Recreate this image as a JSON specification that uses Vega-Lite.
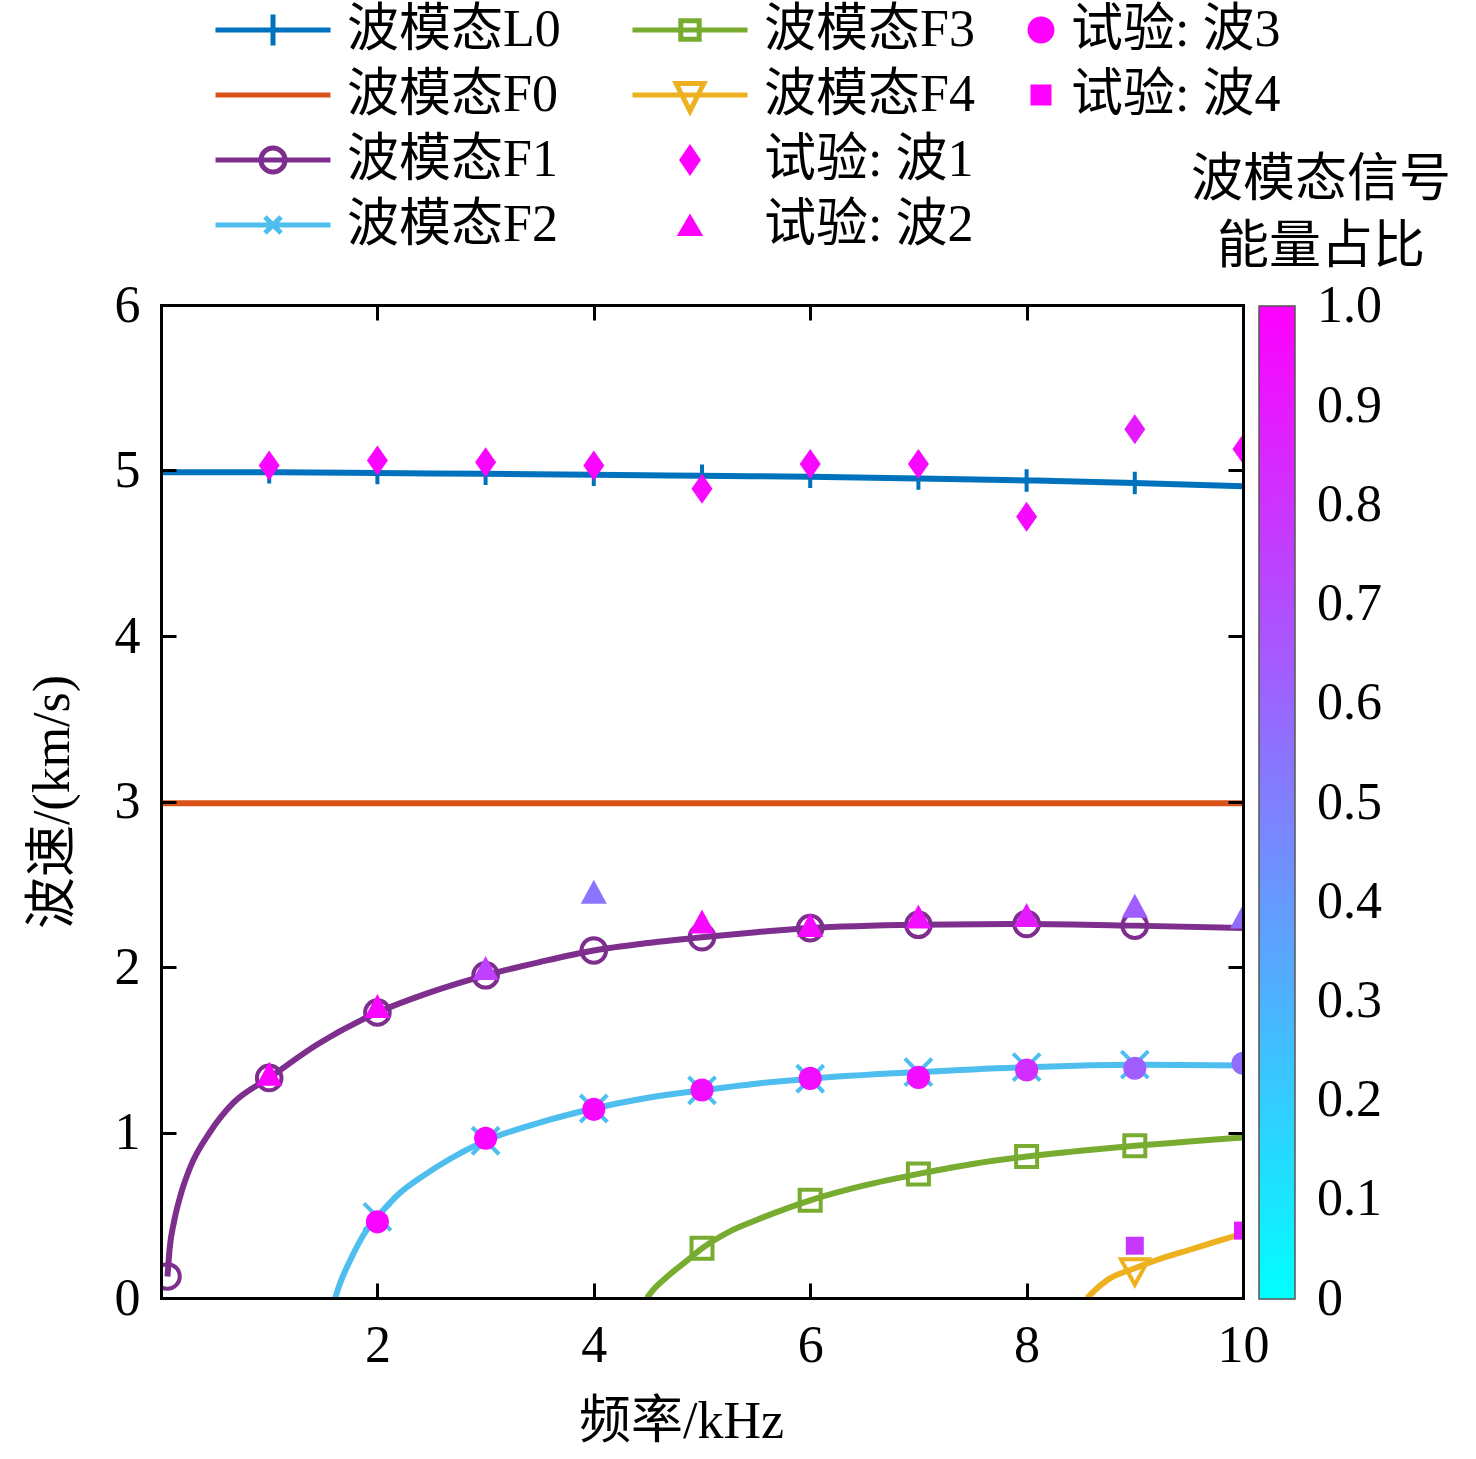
{
  "$schema": "https://vega.github.io/schema/vega-lite/v6.json",
  "width": 1082,
  "height": 993,
  "autosize": "none",
  "padding": {"left": 161, "top": 305, "right": 233, "bottom": 161},
  "background": "white",
  "config": {
    "view": {"stroke": null},
    "font": "Liberation Serif",
    "axis": {"grid": false}
  },
  "datasets": {
    "curves": [
      {"series": "波模态L0", "x": 0, "y": 4.99}, {"series": "波模态L0", "x": 1, "y": 4.99}, {"series": "波模态L0", "x": 2, "y": 4.985}, {"series": "波模态L0", "x": 3, "y": 4.98}, {"series": "波模态L0", "x": 4, "y": 4.975}, {"series": "波模态L0", "x": 5, "y": 4.968}, {"series": "波模态L0", "x": 6, "y": 4.962}, {"series": "波模态L0", "x": 7, "y": 4.952}, {"series": "波模态L0", "x": 8, "y": 4.94}, {"series": "波模态L0", "x": 9, "y": 4.925}, {"series": "波模态L0", "x": 10, "y": 4.905},
      {"series": "波模态F0", "x": 0, "y": 2.99}, {"series": "波模态F0", "x": 10, "y": 2.99},
      {"series": "波模态F1", "x": 0.06, "y": 0.13}, {"series": "波模态F1", "x": 0.08, "y": 0.3}, {"series": "波模态F1", "x": 0.12, "y": 0.46}, {"series": "波模态F1", "x": 0.18, "y": 0.62}, {"series": "波模态F1", "x": 0.27, "y": 0.79}, {"series": "波模态F1", "x": 0.45, "y": 1.0}, {"series": "波模态F1", "x": 0.67, "y": 1.18}, {"series": "波模态F1", "x": 1, "y": 1.33}, {"series": "波模态F1", "x": 1.44, "y": 1.53}, {"series": "波模态F1", "x": 2, "y": 1.725}, {"series": "波模态F1", "x": 2.5, "y": 1.85}, {"series": "波模态F1", "x": 3, "y": 1.95}, {"series": "波模态F1", "x": 3.5, "y": 2.03}, {"series": "波模态F1", "x": 4, "y": 2.1}, {"series": "波模态F1", "x": 4.5, "y": 2.145}, {"series": "波模态F1", "x": 5, "y": 2.18}, {"series": "波模态F1", "x": 5.5, "y": 2.21}, {"series": "波模态F1", "x": 6, "y": 2.235}, {"series": "波模态F1", "x": 7, "y": 2.255}, {"series": "波模态F1", "x": 8, "y": 2.26}, {"series": "波模态F1", "x": 9, "y": 2.25}, {"series": "波模态F1", "x": 10, "y": 2.235},
      {"series": "波模态F2", "x": 1.61, "y": 0.0}, {"series": "波模态F2", "x": 1.65, "y": 0.08}, {"series": "波模态F2", "x": 1.75, "y": 0.23}, {"series": "波模态F2", "x": 1.9, "y": 0.41}, {"series": "波模态F2", "x": 2, "y": 0.49}, {"series": "波模态F2", "x": 2.2, "y": 0.63}, {"series": "波模态F2", "x": 2.45, "y": 0.75}, {"series": "波模态F2", "x": 2.67, "y": 0.84}, {"series": "波模态F2", "x": 3, "y": 0.95}, {"series": "波模态F2", "x": 3.5, "y": 1.06}, {"series": "波模态F2", "x": 4, "y": 1.145}, {"series": "波模态F2", "x": 4.5, "y": 1.21}, {"series": "波模态F2", "x": 5, "y": 1.255}, {"series": "波模态F2", "x": 5.5, "y": 1.295}, {"series": "波模态F2", "x": 6, "y": 1.325}, {"series": "波模态F2", "x": 7, "y": 1.365}, {"series": "波模态F2", "x": 8, "y": 1.395}, {"series": "波模态F2", "x": 9, "y": 1.41}, {"series": "波模态F2", "x": 10, "y": 1.405},
      {"series": "波模态F3", "x": 4.49, "y": 0.0}, {"series": "波模态F3", "x": 4.55, "y": 0.05}, {"series": "波模态F3", "x": 4.68, "y": 0.13}, {"series": "波模态F3", "x": 4.85, "y": 0.22}, {"series": "波模态F3", "x": 5, "y": 0.3}, {"series": "波模态F3", "x": 5.25, "y": 0.4}, {"series": "波模态F3", "x": 5.5, "y": 0.47}, {"series": "波模态F3", "x": 6, "y": 0.59}, {"series": "波模态F3", "x": 6.5, "y": 0.68}, {"series": "波模态F3", "x": 7, "y": 0.75}, {"series": "波模态F3", "x": 7.5, "y": 0.81}, {"series": "波模态F3", "x": 8, "y": 0.855}, {"series": "波模态F3", "x": 8.5, "y": 0.89}, {"series": "波模态F3", "x": 9, "y": 0.92}, {"series": "波模态F3", "x": 9.5, "y": 0.945}, {"series": "波模态F3", "x": 10, "y": 0.97},
      {"series": "波模态F4", "x": 8.56, "y": 0.0}, {"series": "波模态F4", "x": 8.62, "y": 0.04}, {"series": "波模态F4", "x": 8.75, "y": 0.11}, {"series": "波模态F4", "x": 9, "y": 0.18}, {"series": "波模态F4", "x": 9.25, "y": 0.24}, {"series": "波模态F4", "x": 9.5, "y": 0.29}, {"series": "波模态F4", "x": 9.75, "y": 0.34}, {"series": "波模态F4", "x": 10, "y": 0.39}
    ],
    "markers": [
      {"series": "波模态L0", "x": 0, "y": 4.99}, {"series": "波模态L0", "x": 1, "y": 4.99}, {"series": "波模态L0", "x": 2, "y": 4.985}, {"series": "波模态L0", "x": 3, "y": 4.98}, {"series": "波模态L0", "x": 4, "y": 4.975}, {"series": "波模态L0", "x": 5, "y": 4.968}, {"series": "波模态L0", "x": 6, "y": 4.962}, {"series": "波模态L0", "x": 7, "y": 4.952}, {"series": "波模态L0", "x": 8, "y": 4.94}, {"series": "波模态L0", "x": 9, "y": 4.925},
      {"series": "波模态F1", "x": 0.06, "y": 0.13}, {"series": "波模态F1", "x": 1, "y": 1.33}, {"series": "波模态F1", "x": 2, "y": 1.725}, {"series": "波模态F1", "x": 3, "y": 1.95}, {"series": "波模态F1", "x": 4, "y": 2.1}, {"series": "波模态F1", "x": 5, "y": 2.18}, {"series": "波模态F1", "x": 6, "y": 2.235}, {"series": "波模态F1", "x": 7, "y": 2.255}, {"series": "波模态F1", "x": 8, "y": 2.26}, {"series": "波模态F1", "x": 9, "y": 2.25},
      {"series": "波模态F2", "x": 2, "y": 0.49}, {"series": "波模态F2", "x": 3, "y": 0.95}, {"series": "波模态F2", "x": 4, "y": 1.145}, {"series": "波模态F2", "x": 5, "y": 1.255}, {"series": "波模态F2", "x": 6, "y": 1.325}, {"series": "波模态F2", "x": 7, "y": 1.365}, {"series": "波模态F2", "x": 8, "y": 1.395}, {"series": "波模态F2", "x": 9, "y": 1.41},
      {"series": "波模态F3", "x": 5, "y": 0.3}, {"series": "波模态F3", "x": 6, "y": 0.59}, {"series": "波模态F3", "x": 7, "y": 0.75}, {"series": "波模态F3", "x": 8, "y": 0.855}, {"series": "波模态F3", "x": 9, "y": 0.92},
      {"series": "波模态F4", "x": 9, "y": 0.18}
    ],
    "exps": [
      {"series": "试验: 波1", "x": 1, "y": 5.03, "e": 0.97}, {"series": "试验: 波1", "x": 2, "y": 5.06, "e": 0.98}, {"series": "试验: 波1", "x": 3, "y": 5.05, "e": 0.98}, {"series": "试验: 波1", "x": 4, "y": 5.03, "e": 0.98}, {"series": "试验: 波1", "x": 5, "y": 4.89, "e": 0.97}, {"series": "试验: 波1", "x": 6, "y": 5.04, "e": 0.97}, {"series": "试验: 波1", "x": 7, "y": 5.04, "e": 0.97}, {"series": "试验: 波1", "x": 8, "y": 4.72, "e": 0.96}, {"series": "试验: 波1", "x": 9, "y": 5.25, "e": 0.9}, {"series": "试验: 波1", "x": 10, "y": 5.13, "e": 0.95},
      {"series": "试验: 波2", "x": 1, "y": 1.35, "e": 1.0}, {"series": "试验: 波2", "x": 2, "y": 1.76, "e": 0.98}, {"series": "试验: 波2", "x": 3, "y": 1.99, "e": 0.75}, {"series": "试验: 波2", "x": 4, "y": 2.45, "e": 0.54}, {"series": "试验: 波2", "x": 5, "y": 2.27, "e": 0.97}, {"series": "试验: 波2", "x": 6, "y": 2.25, "e": 0.97}, {"series": "试验: 波2", "x": 7, "y": 2.3, "e": 0.95}, {"series": "试验: 波2", "x": 8, "y": 2.31, "e": 0.9}, {"series": "试验: 波2", "x": 9, "y": 2.365, "e": 0.63}, {"series": "试验: 波2", "x": 10, "y": 2.3, "e": 0.58},
      {"series": "试验: 波3", "x": 2, "y": 0.46, "e": 0.98}, {"series": "试验: 波3", "x": 3, "y": 0.965, "e": 0.98}, {"series": "试验: 波3", "x": 4, "y": 1.14, "e": 0.97}, {"series": "试验: 波3", "x": 5, "y": 1.257, "e": 0.95}, {"series": "试验: 波3", "x": 6, "y": 1.327, "e": 0.95}, {"series": "试验: 波3", "x": 7, "y": 1.333, "e": 0.95}, {"series": "试验: 波3", "x": 8, "y": 1.378, "e": 0.82}, {"series": "试验: 波3", "x": 9, "y": 1.388, "e": 0.63}, {"series": "试验: 波3", "x": 10, "y": 1.418, "e": 0.57},
      {"series": "试验: 波4", "x": 9, "y": 0.316, "e": 0.78}, {"series": "试验: 波4", "x": 10, "y": 0.407, "e": 0.88}
    ]
  },
  "layer": [
    {
      "data": {"name": "curves"},
      "mark": {"type": "line", "strokeWidth": 6, "interpolate": "monotone", "clip": true, "opacity": 1},
      "encoding": {
        "x": {"field": "x", "type": "quantitative", "scale": {"domain": [0, 10], "nice": false, "zero": false},
          "axis": {"orient": "bottom", "values": [2, 4, 6, 8, 10], "title": "频率/kHz", "titleX": 520, "tickSize": -15, "tickWidth": 3, "tickColor": "black", "domainWidth": 3, "domainColor": "black", "domainCap": "square", "labelPadding": 37, "labelFlush": false, "labelFont": "Liberation Serif", "labelFontSize": 52, "labelColor": "black", "titleFont": "Liberation Serif, Noto Sans CJK SC", "titleFontSize": 52, "titleFontWeight": "normal", "titleColor": "black", "titlePadding": 25, "zindex": 1, "grid": false}},
        "y": {"field": "y", "type": "quantitative", "scale": {"domain": [0, 6], "nice": false},
          "axis": {"orient": "left", "values": [0, 1, 2, 3, 4, 5, 6], "title": "波速/(km/s)", "tickSize": -15, "tickWidth": 3, "tickColor": "black", "domainWidth": 3, "domainColor": "black", "domainCap": "square", "labelPadding": 36, "labelFlush": false, "labelFont": "Liberation Serif", "labelFontSize": 52, "labelColor": "black", "titleFont": "Liberation Serif, Noto Sans CJK SC", "titleFontSize": 52, "titleFontWeight": "normal", "titleColor": "black", "titlePadding": 35, "zindex": 1, "grid": false}},
        "stroke": {"field": "series", "type": "nominal",
          "scale": {"domain": ["波模态L0", "波模态F0", "波模态F1", "波模态F2", "波模态F3", "波模态F4", "试验: 波1", "试验: 波2"],
                    "range": ["#0072BD", "#D95319", "#7E2F8E", "#4DBEEE", "#77AC30", "#EDB120", "#ff00ff", "#ff00ff"]},
          "legend": null}
      }
    },
    {
      "data": {"name": "markers"},
      "mark": {"type": "point", "filled": false, "strokeWidth": 4, "size": 900, "opacity": 1, "clip": true},
      "encoding": {
        "x": {"field": "x", "type": "quantitative", "scale": {"domain": [0, 10], "nice": false, "zero": false},
          "axis": {"orient": "top", "values": [2, 4, 6, 8], "title": null, "labels": false, "tickSize": -15, "tickWidth": 3, "tickColor": "black", "domainWidth": 3, "domainColor": "black", "domainCap": "square", "zindex": 1, "grid": false}},
        "y": {"field": "y", "type": "quantitative", "scale": {"domain": [0, 6], "nice": false},
          "axis": {"orient": "right", "values": [1, 2, 3, 4, 5], "title": null, "labels": false, "tickSize": -15, "tickWidth": 3, "tickColor": "black", "domainWidth": 3, "domainColor": "black", "domainCap": "square", "zindex": 1, "grid": false}},
        "stroke": {"field": "series", "type": "nominal",
          "scale": {"domain": ["波模态L0", "波模态F0", "波模态F1", "波模态F2", "波模态F3", "波模态F4", "试验: 波1", "试验: 波2"],
                    "range": ["#0072BD", "#D95319", "#7E2F8E", "#4DBEEE", "#77AC30", "#EDB120", "#ff00ff", "#ff00ff"]},
          "legend": null},
        "shape": {"field": "series", "type": "nominal",
          "scale": {"domain": ["波模态L0", "波模态F1", "波模态F2", "波模态F3", "波模态F4"],
                    "range": ["M0,-0.75V0.75M-0.5,0H0.5", "M-0.82,0A0.82,0.82 0 1,0 0.82,0A0.82,0.82 0 1,0 -0.82,0Z", "M-0.9,-0.9L0.9,0.9M-0.9,0.9L0.9,-0.9", "M-0.7,-0.7H0.7V0.7H-0.7Z", "M-0.93,-0.6H0.93L0,1.1Z"]},
          "legend": null}
      }
    },
    {
      "data": {"name": "exps"},
      "mark": {"type": "point", "filled": true, "strokeWidth": 0, "size": 900, "opacity": 1, "clip": true},
      "encoding": {
        "x": {"field": "x", "type": "quantitative", "scale": {"domain": [0, 10], "nice": false, "zero": false}, "axis": null},
        "y": {"field": "y", "type": "quantitative", "scale": {"domain": [0, 6], "nice": false}, "axis": null},
        "fill": {"field": "e", "type": "quantitative",
          "scale": {"domain": [-0.0005, 1.0005], "nice": false, "range": ["#00ffff", "#ff00ff"], "interpolate": "rgb"},
          "legend": {"orient": "none", "legendX": 1030, "legendY": -150, "direction": "vertical",
            "title": ["波模态信号", "能量占比"], "titleFont": "Liberation Serif, Noto Sans CJK SC", "titleFontSize": 52, "titleFontWeight": "normal", "titleColor": "black", "titleLineHeight": 67, "titleAlign": "center", "titleAnchor": "middle", "titlePadding": 32, "titleLimit": 1000,
            "gradientLength": 993, "gradientThickness": 36, "gradientStrokeColor": "#555555", "gradientStrokeWidth": 1.5,
            "values": [0, 0.1, 0.2, 0.3, 0.4, 0.5, 0.6, 0.7, 0.8, 0.9, 1.0],
            "labelExpr": "datum.value == 0 ? '0' : format(datum.value, '.1f')",
            "labelFont": "Liberation Serif", "labelFontSize": 52, "labelColor": "black", "labelOffset": 22, "labelOverlap": false, "labelLimit": 500, "padding": 0, "offset": 0
          }},
        "shape": {"field": "series", "type": "nominal",
          "scale": {"domain": ["试验: 波1", "试验: 波2", "试验: 波3", "试验: 波4"],
                    "range": ["M0,-1L0.7,0L0,1L-0.7,0Z", "M0,-0.85L0.87,0.75L-0.87,0.75Z", "M-0.77,0A0.77,0.77 0 1,0 0.77,0A0.77,0.77 0 1,0 -0.77,0Z", "M-0.6,-0.6H0.6V0.6H-0.6Z"]},
          "legend": {"orient": "none", "legendX": 854, "legendY": -305, "direction": "vertical", "values": ["试验: 波3", "试验: 波4"],
            "symbolSize": 1225, "symbolOffset": 0, "symbolFillColor": "#ff00ff", "symbolStrokeWidth": 0, "symbolOpacity": 1, "clipHeight": 60, "rowPadding": 5, "labelOffset": 4, "labelFontSize": 52, "labelFont": "Liberation Serif, Noto Sans CJK SC", "labelColor": "black", "labelLimit": 600, "title": null, "padding": 0, "offset": 0}}
      }
    },
    {
      "data": {"name": "markers"},
      "transform": [{"filter": "datum.x < -100"}],
      "mark": {"type": "point", "filled": true, "strokeWidth": 5, "size": 100, "opacity": 1},
      "encoding": {
        "x": {"field": "x", "type": "quantitative", "scale": {"domain": [0, 10], "nice": false, "zero": false}, "axis": null},
        "y": {"field": "y", "type": "quantitative", "scale": {"domain": [0, 6], "nice": false}, "axis": null},
        "stroke": {"field": "series", "type": "nominal",
          "scale": {"domain": ["波模态L0", "波模态F0", "波模态F1", "波模态F2", "波模态F3", "波模态F4", "试验: 波1", "试验: 波2"],
                    "range": ["#0072BD", "#D95319", "#7E2F8E", "#4DBEEE", "#77AC30", "#EDB120", "transparent", "transparent"]},
          "legend": {"orient": "none", "legendX": 52, "legendY": -305, "direction": "vertical", "columns": 2, "columnPadding": 69, "rowPadding": 5, "clipHeight": 60, "gridAlign": "each",
            "symbolSize": 13225, "symbolOffset": 0, "symbolStrokeWidth": 5, "symbolOpacity": 1, "labelOffset": 14, "labelFontSize": 52, "labelFont": "Liberation Serif, Noto Sans CJK SC", "labelColor": "black", "labelLimit": 600, "title": null, "padding": 0, "offset": 0}},
        "fill": {"field": "series", "type": "nominal",
          "scale": {"domain": ["波模态L0", "波模态F0", "波模态F1", "波模态F2", "波模态F3", "波模态F4", "试验: 波1", "试验: 波2"],
                    "range": ["transparent", "transparent", "transparent", "transparent", "transparent", "transparent", "#ff00ff", "#ff00ff"]},
          "legend": {"orient": "none", "legendX": 52, "legendY": -305, "direction": "vertical", "columns": 2, "columnPadding": 69, "rowPadding": 5, "clipHeight": 60, "gridAlign": "each",
            "symbolSize": 13225, "symbolOffset": 0, "symbolStrokeWidth": 5, "symbolOpacity": 1, "labelOffset": 14, "labelFontSize": 52, "labelFont": "Liberation Serif, Noto Sans CJK SC", "labelColor": "black", "labelLimit": 600, "title": null, "padding": 0, "offset": 0}},
        "shape": {"field": "series", "type": "nominal",
          "scale": {"domain": ["波模态L0", "波模态F0", "波模态F1", "波模态F2", "波模态F3", "波模态F4", "试验: 波1", "试验: 波2"],
                    "range": ["M-1,0H1M0,-0.27V0.27", "M-1,0H1", "M-1,0H1M-0.21,0A0.21,0.21 0 1,0 0.21,0A0.21,0.21 0 1,0 -0.21,0Z", "M-1,0H1M-0.14,-0.14L0.14,0.14M-0.14,0.14L0.14,-0.14", "M-1,0H1M-0.16,-0.16H0.16V0.16H-0.16Z", "M-1,0H1M-0.24,-0.2H0.24L0,0.28Z", "M0,-0.28L0.19,0L0,0.28L-0.19,0Z", "M0,-0.2L0.23,0.19L-0.23,0.19Z"]},
          "legend": {"orient": "none", "legendX": 52, "legendY": -305, "direction": "vertical", "columns": 2, "columnPadding": 69, "rowPadding": 5, "clipHeight": 60, "gridAlign": "each",
            "symbolSize": 13225, "symbolOffset": 0, "symbolStrokeWidth": 5, "symbolOpacity": 1, "labelOffset": 14, "labelFontSize": 52, "labelFont": "Liberation Serif, Noto Sans CJK SC", "labelColor": "black", "labelLimit": 600, "title": null, "padding": 0, "offset": 0}}
      }
    }
  ],
  "resolve": {"axis": {"x": "independent", "y": "independent"}, "scale": {"shape": "independent", "stroke": "independent", "fill": "independent"}}
}
